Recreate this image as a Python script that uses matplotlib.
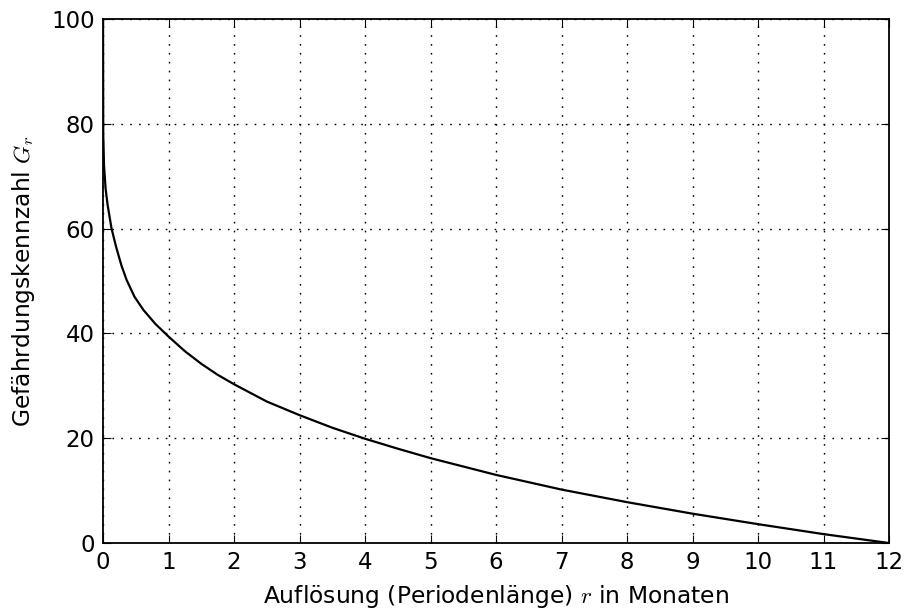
import numpy as np
import matplotlib
matplotlib.use('Agg')
import matplotlib.pyplot as plt

# Gefährdungskennzahl über der Auflösung (Periodenlänge in Monaten)
r_months = [0, 0.003, 0.015, 0.04, 0.07, 0.13, 0.2, 0.28, 0.36, 0.48, 0.615, 0.8,
            1, 1.25, 1.5, 1.75, 2, 2.5, 3, 3.5, 4, 4.5, 5, 6, 7, 8, 9, 10, 11, 12]
g_values = [100, 78, 72, 67.5, 64.5, 60, 56.5, 53, 50.2, 47, 44.5, 41.8,
            39.4, 36.6, 34.2, 32.1, 30.3, 27.0, 24.4, 22.0, 19.9, 18.0, 16.2, 13.0, 10.2, 7.8, 5.6, 3.6, 1.7, 0]

x_ticks = list(range(0, 13))
y_ticks = [0, 20, 40, 60, 80, 100]

plt.rcParams['mathtext.fontset'] = 'cm'
plt.rcParams['lines.scale_dashes'] = False

fig = plt.figure(figsize=(9.07, 6.12), dpi=100)
ax = fig.add_axes([0.1136, 0.1127, 0.8666, 0.8563])

ax.plot(r_months, g_values, color='black', lw=1.6)

ax.set_xlim(0, 12)
ax.set_ylim(0, 100)
ax.set_xticks(x_ticks)
ax.set_yticks(y_ticks)
ax.grid(True, color='black', linestyle=(0, (1.2, 5.2)), linewidth=1.0)
ax.tick_params(direction='in', top=True, right=True, length=6, width=0.8, labelsize=16.5, pad=6)
for s in ax.spines.values():
    s.set_linewidth(1.3)

ax.set_xlabel('Auflösung (Periodenlänge) $r$ in Monaten', fontsize=16.8, labelpad=6)
ax.set_ylabel('Gefährdungskennzahl $G_r$', fontsize=16.8, labelpad=10)

fig.savefig('out.png', dpi=100)
